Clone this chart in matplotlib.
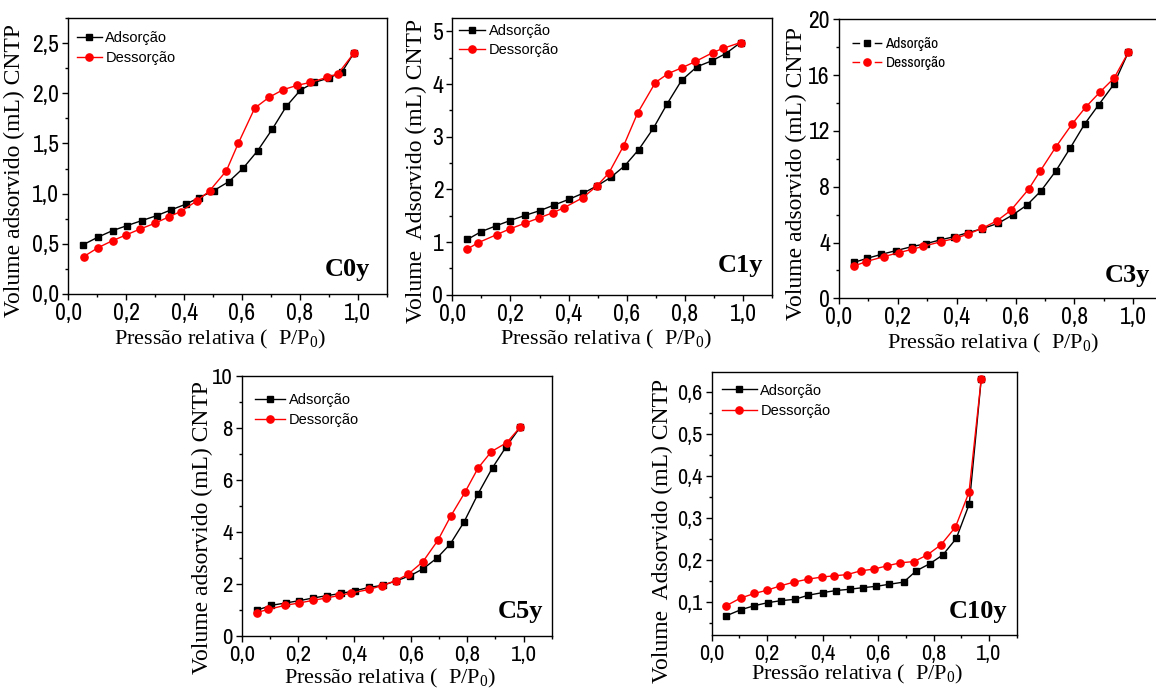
import matplotlib
matplotlib.use("Agg")
import matplotlib.pyplot as plt
from matplotlib import font_manager
from matplotlib.lines import Line2D
from matplotlib.ticker import MultipleLocator, FuncFormatter

plt.rcParams['mathtext.fontset'] = 'custom'
plt.rcParams['mathtext.rm'] = 'Liberation Serif'
plt.rcParams['mathtext.default'] = 'rm'

_avail = set(f.name for f in font_manager.fontManager.ttflist)
NARROW = next((n for n in ['Liberation Sans Narrow', 'Arial Narrow', 'Archivo Narrow',
                           'Liberation Sans'] if n in _avail), 'DejaVu Sans')
NARROW_IS_REAL = NARROW != 'Liberation Sans'

# ---------------- data ----------------
# C0y
c0_ads_x = [0.050, 0.104, 0.153, 0.203, 0.254, 0.306, 0.355, 0.405, 0.453, 0.503,
            0.555, 0.604, 0.654, 0.704, 0.753, 0.802, 0.850, 0.900, 0.946, 0.986]
c0_ads_y = [0.487, 0.567, 0.630, 0.680, 0.730, 0.780, 0.837, 0.893, 0.960, 1.030,
            1.120, 1.253, 1.427, 1.640, 1.870, 2.033, 2.110, 2.153, 2.217, 2.400]
c0_des_x = [0.053, 0.103, 0.153, 0.200, 0.249, 0.299, 0.347, 0.388, 0.446, 0.488,
            0.546, 0.587, 0.644, 0.693, 0.742, 0.790, 0.836, 0.894, 0.932, 0.986]
c0_des_y = [0.370, 0.460, 0.530, 0.587, 0.647, 0.703, 0.767, 0.820, 0.930, 1.027,
            1.227, 1.500, 1.853, 1.960, 2.037, 2.080, 2.110, 2.160, 2.197, 2.400]

# C1y
c1_ads_x = [0.052, 0.100, 0.149, 0.198, 0.251, 0.301, 0.351, 0.400, 0.449, 0.497,
            0.545, 0.593, 0.641, 0.691, 0.739, 0.788, 0.841, 0.891, 0.940, 0.991]
c1_ads_y = [1.05, 1.20, 1.305, 1.407, 1.508, 1.597, 1.705, 1.81, 1.926, 2.066,
            2.23, 2.45, 2.757, 3.16, 3.63, 4.07, 4.33, 4.44, 4.58, 4.79]
c1_des_x = [0.049, 0.090, 0.152, 0.198, 0.251, 0.299, 0.347, 0.385, 0.449, 0.497,
            0.538, 0.589, 0.637, 0.698, 0.742, 0.789, 0.836, 0.896, 0.931, 0.991]
c1_des_y = [0.86, 0.99, 1.14, 1.25, 1.36, 1.46, 1.56, 1.654, 1.844, 2.066,
            2.31, 2.83, 3.45, 4.03, 4.20, 4.31, 4.43, 4.60, 4.68, 4.79]

# C3y
c3_ads_x = [0.052, 0.096, 0.144, 0.194, 0.247, 0.296, 0.343, 0.392, 0.439, 0.487,
            0.541, 0.590, 0.639, 0.686, 0.737, 0.785, 0.835, 0.882, 0.934, 0.983]
c3_ads_y = [2.58, 2.87, 3.15, 3.42, 3.70, 3.92, 4.18, 4.42, 4.71, 4.99,
            5.38, 5.97, 6.69, 7.69, 9.13, 10.75, 12.50, 13.86, 15.34, 17.63]
c3_des_x = [0.052, 0.092, 0.153, 0.203, 0.248, 0.287, 0.347, 0.396, 0.439, 0.487,
            0.538, 0.584, 0.644, 0.684, 0.736, 0.793, 0.839, 0.888, 0.935, 0.983]
c3_des_y = [2.32, 2.63, 2.99, 3.27, 3.51, 3.73, 4.06, 4.30, 4.61, 5.02,
            5.57, 6.31, 7.81, 9.13, 10.82, 12.52, 13.72, 14.81, 15.79, 17.63]

# C5y
c5_ads_x = [0.056, 0.105, 0.156, 0.205, 0.252, 0.301, 0.353, 0.402, 0.452, 0.500,
            0.548, 0.598, 0.644, 0.693, 0.740, 0.789, 0.839, 0.890, 0.938, 0.989]
c5_ads_y = [0.99, 1.17, 1.26, 1.35, 1.45, 1.54, 1.63, 1.73, 1.86, 1.94,
            2.11, 2.31, 2.58, 2.99, 3.53, 4.38, 5.47, 6.47, 7.27, 8.04]
c5_des_x = [0.053, 0.093, 0.154, 0.204, 0.252, 0.299, 0.347, 0.387, 0.452, 0.498,
            0.547, 0.591, 0.643, 0.696, 0.742, 0.792, 0.839, 0.886, 0.940, 0.989]
c5_des_y = [0.89, 1.01, 1.17, 1.26, 1.36, 1.45, 1.55, 1.64, 1.78, 1.93,
            2.12, 2.37, 2.85, 3.67, 4.61, 5.52, 6.46, 7.09, 7.43, 8.04]

# C10y
c10_ads_x = [0.053, 0.104, 0.154, 0.202, 0.251, 0.300, 0.349, 0.400, 0.449, 0.497,
             0.547, 0.594, 0.641, 0.692, 0.738, 0.787, 0.834, 0.882, 0.929, 0.972]
c10_ads_y = [0.068, 0.082, 0.092, 0.099, 0.104, 0.107, 0.117, 0.123, 0.128, 0.131,
             0.135, 0.138, 0.143, 0.148, 0.175, 0.192, 0.213, 0.252, 0.334, 0.631]
c10_des_x = [0.053, 0.104, 0.154, 0.201, 0.247, 0.296, 0.347, 0.396, 0.441, 0.489,
             0.538, 0.585, 0.634, 0.680, 0.730, 0.778, 0.827, 0.879, 0.928, 0.972]
c10_des_y = [0.092, 0.110, 0.121, 0.129, 0.139, 0.148, 0.155, 0.160, 0.163, 0.166,
             0.175, 0.179, 0.187, 0.194, 0.197, 0.213, 0.237, 0.279, 0.362, 0.631]

legend_labels = ["Adsorção", "Dessorção"]
xlabel_text = "Pressão relativa (  P/P$_{0}$)"

W, H = 1156, 691
fig = plt.figure(figsize=(W / 100, H / 100), dpi=100)

def px_axes(left, top, right, bottom):
    return fig.add_axes([left / W, 1 - bottom / H, (right - left) / W, (bottom - top) / H])

def comma(dec):
    return FuncFormatter(lambda v, p: (f"{v:.{dec}f}").replace('.', ','))

SANS = 'Liberation Sans'
SERIF = 'Liberation Serif'
TICKFS_SCALE = 1.0 if NARROW_IS_REAL else 0.8

panels = [
    dict(box=(68.3, 18.3, 386.7, 293.7), ylim=(0, 2.75), ymaj=0.5, ymin=0.25, ydec=1,
         data=(c0_ads_x, c0_ads_y, c0_des_x, c0_des_y), name="C0y",
         ylabel="Volume adsorvido (mL) CNTP", ylc=(-0.136, 0.449), xlc=(0.476, -0.125),
         namepos=(0.948, 0.064), leg=(0.027, 0.955), legfs=10.5, hl=1.7, ls=0.45, tfs=17,
         legfont=SANS, gapped=False),
    dict(box=(452.3, 18.3, 772.3, 294.7), ylim=(0, 5.25), ymaj=1, ymin=0.5, ydec=0,
         data=(c1_ads_x, c1_ads_y, c1_des_x, c1_des_y), name="C1y",
         ylabel="Volume  Adsorvido (mL) CNTP", ylc=(-0.079, 0.448), xlc=(0.48, -0.12),
         namepos=(0.971, 0.082), leg=(0.022, 0.98), legfs=10.5, hl=1.75, ls=0.35, tfs=17,
         legfont=SANS, gapped=False),
    dict(box=(839.0, 19.3, 1162.7, 298.3), ylim=(0, 20), ymaj=4, ymin=2, ydec=0,
         data=(c3_ads_x, c3_ads_y, c3_des_x, c3_des_y), name="C3y",
         ylabel="Volume adsorvido (mL) CNTP", ylc=(-0.099, 0.447), xlc=(0.476, -0.119),
         namepos=(0.961, 0.06), leg=(0.039, 0.935), legfs=11, hl=1.96, ls=0.3, tfs=17,
         legfont=NARROW if NARROW_IS_REAL else SANS, gapped=True),
    dict(box=(241.7, 376.0, 551.7, 635.7), ylim=(0, 10), ymaj=2, ymin=1, ydec=0,
         data=(c5_ads_x, c5_ads_y, c5_des_x, c5_des_y), name="C5y",
         ylabel="Volume adsorvido (mL) CNTP", ylc=(-0.093, 0.415), xlc=(0.478, -0.119),
         namepos=(0.972, 0.068), leg=(0.042, 0.935), legfs=10.5, hl=2.1, ls=0.4, tfs=16.5,
         legfont=SANS, gapped=False),
    dict(box=(711.7, 371.7, 1016.7, 635.3), ylim=(0.0214, 0.649), ymaj=0.1, ymin=0.05, ydec=1,
         data=(c10_ads_x, c10_ads_y, c10_des_x, c10_des_y), name="C10y",
         ylabel="Volume  Adsorvido (mL) CNTP", ylc=(-0.127, 0.396), xlc=(0.476, -0.105),
         namepos=(0.968, 0.064), leg=(0.033, 0.955), legfs=10.5, hl=2.4, ls=0.45, tfs=16,
         legfont=SANS, gapped=False),
]

for p in panels:
    ax = px_axes(*p['box'])
    ax_x, ax_y, de_x, de_y = p['data']
    l1, = ax.plot(ax_x, ax_y, color='black', lw=1.0, marker='s', ms=4.3,
                  label=legend_labels[0], zorder=3)
    l2, = ax.plot(de_x, de_y, color='#ff0000', lw=1.0, marker='o', ms=5.2,
                  label=legend_labels[1], zorder=3)
    ax.set_xlim(0, 1.1)
    ax.set_ylim(*p['ylim'])
    ax.xaxis.set_major_locator(MultipleLocator(0.2))
    ax.xaxis.set_minor_locator(MultipleLocator(0.1))
    ax.yaxis.set_major_locator(MultipleLocator(p['ymaj']))
    ax.yaxis.set_minor_locator(MultipleLocator(p['ymin']))
    ax.xaxis.set_major_formatter(comma(1))
    ax.yaxis.set_major_formatter(comma(p['ydec']))
    ax.tick_params(which='major', direction='out', length=4.5, width=1.0,
                   labelsize=p['tfs'] * TICKFS_SCALE, pad=2)
    ax.tick_params(which='minor', direction='out', length=2.5, width=1.0)
    for lab in ax.get_xticklabels() + ax.get_yticklabels():
        lab.set_fontfamily(NARROW)
    for s in ax.spines.values():
        s.set_linewidth(1.0)
    ax.set_ylabel(p['ylabel'], fontfamily=SERIF, fontsize=17)
    ax.yaxis.set_label_coords(*p['ylc'])
    ax.set_xlabel(xlabel_text, fontfamily=SERIF, fontsize=16)
    ax.xaxis.set_label_coords(*p['xlc'])
    ax.text(p['namepos'][0], p['namepos'][1], p['name'], transform=ax.transAxes,
            ha='right', va='baseline', fontfamily=SERIF, fontweight='bold', fontsize=19)
    if p['gapped']:
        handles = [Line2D([], [], color='black', lw=1.0, marker='s', ms=4.3,
                          ls=(0, (5.5, 10.5))),
                   Line2D([], [], color='#ff0000', lw=1.0, marker='o', ms=5.2,
                          ls=(0, (5.5, 10.5)))]
    else:
        handles = [l1, l2]
    ax.legend(handles, legend_labels, loc='upper left', bbox_to_anchor=p['leg'],
              frameon=False, prop={'family': p['legfont'], 'size': p['legfs']},
              handlelength=p['hl'], handletextpad=0.25, labelspacing=p['ls'],
              borderpad=0, borderaxespad=0)

fig.savefig("out.png", dpi=100)
